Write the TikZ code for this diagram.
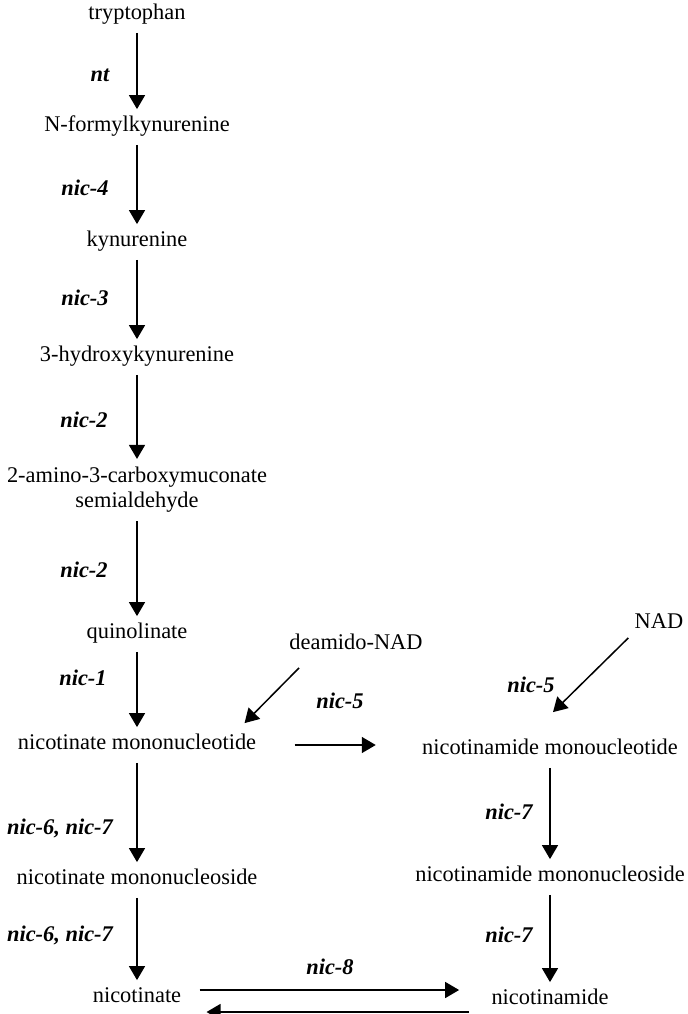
\documentclass[tikz,border=0pt]{standalone}
\usepackage{fontspec}
\setmainfont{Liberation Serif}
\usetikzlibrary{arrows.meta,positioning}

\begin{document}
\begin{tikzpicture}[x=0.5pt,y=-0.5pt,
    met/.style={font=\fontsize{11.2}{12.5}\selectfont,inner xsep=3pt,inner ysep=4pt,text height=0.7em,text depth=0.25em},
    mettwo/.style={font=\fontsize{11.2}{12.5}\selectfont,inner xsep=3pt,inner ysep=4pt,align=center},
    enz/.style={font=\fontsize{11.2}{12.5}\selectfont\bfseries\itshape,inner sep=1pt},
    arr/.style={-{Triangle[width=8pt,length=7pt]},line width=0.75pt}]
    \useasboundingbox (0,0) rectangle (688,1014);

    % left column
    \node[met] (trp) at (137,15) {tryptophan};
    \node[met] (nfk) at (137,127) {N-formylkynurenine};
    \node[met] (kyn) at (137,242) {kynurenine};
    \node[met] (hk) at (137,357) {3-hydroxykynurenine};
    \node[mettwo] (acms) at (137,490) {2-amino-3-carboxymuconate\\semialdehyde};
    \node[met] (quin) at (137,634) {quinolinate};
    \node[met] (namn) at (137,745) {nicotinate mononucleotide};
    \node[met] (namr) at (137,880) {nicotinate mononucleoside};
    \node[met] (na) at (137,998) {nicotinate};

    % right column
    \node[met] (dnad) at (356,645) {deamido-NAD};
    \node[met] (nad) at (659,624) {NAD};
    \node[met] (nmn) at (550,750) {nicotinamide monoucleotide};
    \node[met] (nr) at (550,877) {nicotinamide mononucleoside};
    \node[met] (nam) at (550,1000) {nicotinamide};

    % enzymes
    \node[enz] (nt) at (100,75) {nt};
    \node[enz] (nicfour) at (85,188) {nic-4};
    \node[enz] (nicthree) at (85,298) {nic-3};
    \node[enz] (nictwoa) at (84,420) {nic-2};
    \node[enz] (nictwob) at (84,570) {nic-2};
    \node[enz] (nicone) at (83,678) {nic-1};
    \node[enz] (nicfivea) at (340,701) {nic-5};
    \node[enz] (nicfiveb) at (531,685) {nic-5};
    \node[enz] (nicsixa) at (60,828) {nic-6, nic-7};
    \node[enz] (nicsixb) at (60,935) {nic-6, nic-7};
    \node[enz] (nicsevena) at (509,812) {nic-7};
    \node[enz] (nicsevenb) at (509,935) {nic-7};
    \node[enz] (niceight) at (330,967) {nic-8};

    \draw[arr] (trp) -- (nfk);
    \draw[arr] (nfk) -- (kyn);
    \draw[arr] (kyn) -- (hk);
    \draw[arr] (hk) -- (acms);
    \draw[arr] (acms) -- (quin);
    \draw[arr] (quin) -- (namn);
    \draw[arr] (namn) -- (namr);
    \draw[arr] (namr) -- (na);

    \draw[arr] ([xshift=8pt,yshift=-2.5pt]dnad.south west) -- ([xshift=-9pt,yshift=2pt]namn.north east);
    \draw[arr] ([yshift=2pt]nad.south west) -- ([xshift=1.5pt,yshift=10pt]nmn.north);
    \draw[arr] ([xshift=16pt]namn.east) -- ([xshift=-20pt,yshift=2.5pt]nmn.west);

    \draw[arr] (nmn) -- (nr);
    \draw[arr] (nr) -- (nam);

    \draw[arr] ([xshift=6pt,yshift=4pt]na.east) -- ([xshift=-13pt,yshift=5pt]nam.west);
    \draw[arr] ([xshift=-8pt,yshift=-6pt]nam.west) -- ([xshift=9.5pt,yshift=-7pt]na.east);
\end{tikzpicture}
\end{document}
